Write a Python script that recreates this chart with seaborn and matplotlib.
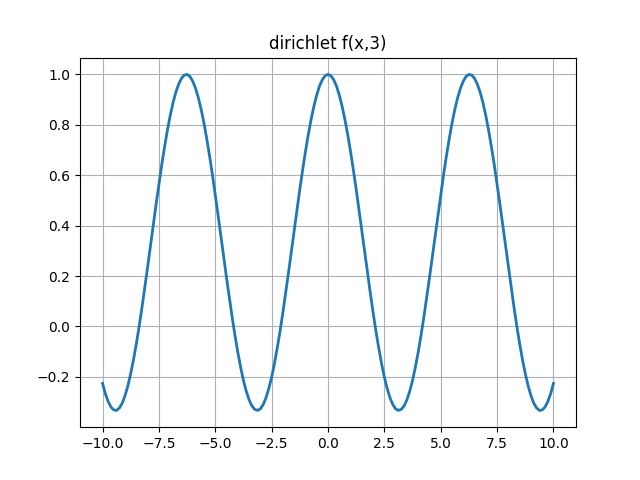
import matplotlib
matplotlib.use("Agg")
import matplotlib.pyplot as plt
import seaborn as sns

# Values (curve is symmetric about x = 0), step 0.125
x_right = [0.0, 0.125, 0.25, 0.375, 0.5, 0.625, 0.75, 0.875, 1.0, 1.125,
           1.25, 1.375, 1.5, 1.625, 1.75, 1.875, 2.0, 2.125, 2.25, 2.375,
           2.5, 2.625, 2.75, 2.875, 3.0, 3.125, 3.25, 3.375, 3.5, 3.625,
           3.75, 3.875, 4.0, 4.125, 4.25, 4.375, 4.5, 4.625, 4.75, 4.875,
           5.0, 5.125, 5.25, 5.375, 5.5, 5.625, 5.75, 5.875, 6.0, 6.125,
           6.25, 6.375, 6.5, 6.625, 6.75, 6.875, 7.0, 7.125, 7.25, 7.375,
           7.5, 7.625, 7.75, 7.875, 8.0, 8.125, 8.25, 8.375, 8.5, 8.625,
           8.75, 8.875, 9.0, 9.125, 9.25, 9.375, 9.5, 9.625, 9.75, 9.875,
           10.0]
y_right = [1.000, 0.995, 0.979, 0.954, 0.918, 0.874, 0.821, 0.761, 0.694, 0.621,
           0.544, 0.463, 0.380, 0.297, 0.215, 0.134, 0.056, -0.018, -0.085, -0.147,
           -0.201, -0.246, -0.283, -0.310, -0.327, -0.333, -0.329, -0.315, -0.291, -0.257,
           -0.214, -0.162, -0.102, -0.036, 0.036, 0.113, 0.193, 0.275, 0.358, 0.441,
           0.522, 0.601, 0.675, 0.743, 0.806, 0.861, 0.907, 0.945, 0.973, 0.992,
           1.000, 0.997, 0.984, 0.961, 0.929, 0.887, 0.836, 0.777, 0.712, 0.641,
           0.564, 0.485, 0.403, 0.319, 0.236, 0.155, 0.076, 0.001, -0.068, -0.131,
           -0.187, -0.235, -0.274, -0.304, -0.323, -0.333, -0.331, -0.320, -0.298, -0.267,
           -0.226]

x_vals = [-v for v in x_right[:0:-1]] + x_right
y_vals = y_right[:0:-1] + y_right

title = "dirichlet f(x,3)"
xticks = [-10.0, -7.5, -5.0, -2.5, 0.0, 2.5, 5.0, 7.5, 10.0]

fig, ax = plt.subplots(figsize=(6.4, 4.8), dpi=100)
sns.lineplot(x=x_vals, y=y_vals, ax=ax, color="#1f77b4", linewidth=2,
             sort=False, estimator=None)
ax.set_title(title)
ax.grid(True, color="#b0b0b0", linewidth=0.8)
ax.set_axisbelow(True)
ax.set_xlabel("")
ax.set_ylabel("")
ax.set_xticks(xticks)
fig.savefig("out.png", dpi=100)
